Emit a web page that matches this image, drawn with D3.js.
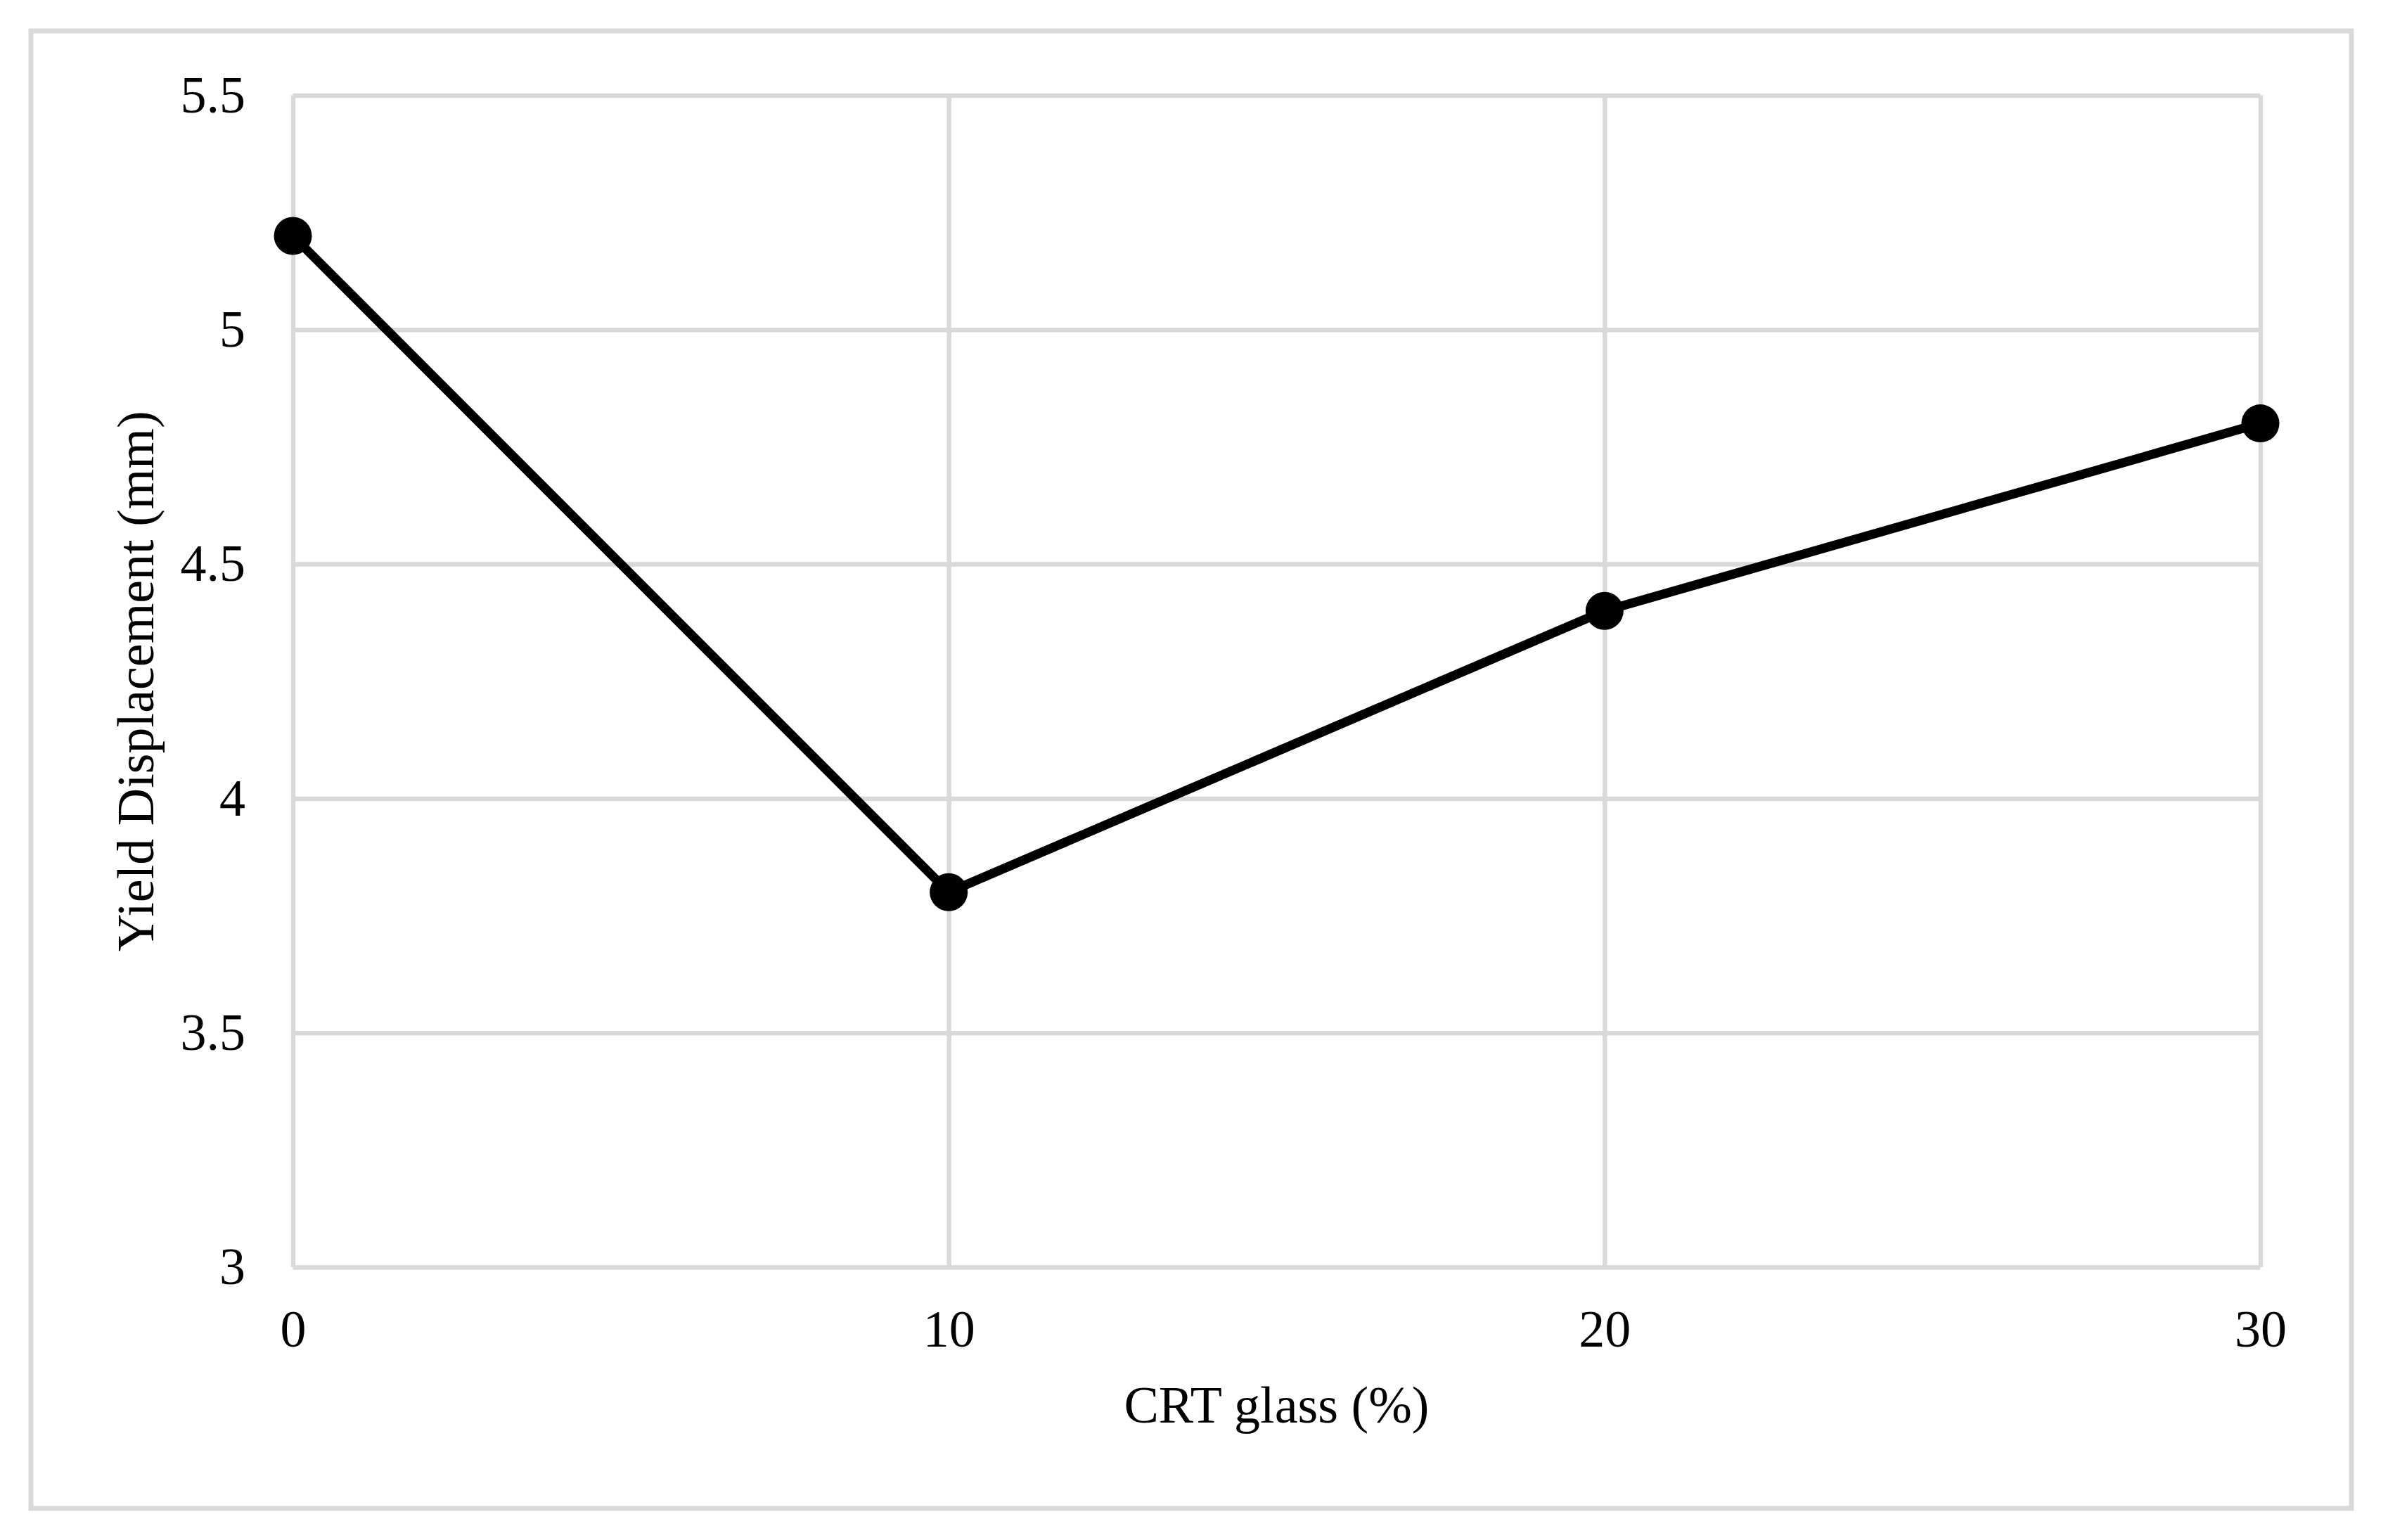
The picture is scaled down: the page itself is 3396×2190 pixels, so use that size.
<!DOCTYPE html>
<html>
<head>
<meta charset="utf-8">
<script src="https://cdn.jsdelivr.net/npm/d3@7"></script>
<style>
  html, body { margin: 0; padding: 0; background: #fff; }
  svg { display: block; }
</style>
</head>
<body>
<div id="chart"></div>
<script>
// ---- data ----
const crtGlass = [0, 10, 20, 30];
const yieldDisplacement = [5.2, 3.8, 4.4, 4.8];
const xTicks = [0, 10, 20, 30];
const yTicks = [3, 3.5, 4, 4.5, 5, 5.5];
const xTitle = "CRT glass (%)";
const yTitle = "Yield Displacement (mm)";

(function () {
  // ---- layout ----
  const W = 3396, H = 2190;
  const pLeft = 416.5, pRight = 3214.5, pTop = 135.5, pBottom = 1802;
  const font = "'Liberation Serif', 'Times New Roman', serif";
  const fs = 74;
  const gridColor = "#d9d9d9";

  const svg = d3.select("#chart").append("svg")
    .attr("width", W).attr("height", H);

  svg.append("rect").attr("width", W).attr("height", H).attr("fill", "#fff");
  svg.append("rect")
    .attr("x", 44).attr("y", 44).attr("width", 3300).attr("height", 2101)
    .attr("fill", "#fff").attr("stroke", gridColor).attr("stroke-width", 7);

  const x = d3.scaleLinear().domain([0, 30]).range([pLeft, pRight]);
  const y = d3.scaleLinear().domain([3, 5.5]).range([pBottom, pTop]);

  // x axis with vertical gridlines
  const xAxis = svg.append("g")
    .attr("transform", `translate(0,${pBottom})`)
    .call(d3.axisBottom(x).tickValues(xTicks).tickFormat(d3.format("d"))
      .tickSizeInner(-(pBottom - pTop)).tickSizeOuter(0).tickPadding(60.5));
  xAxis.select(".domain").remove();
  xAxis.selectAll(".tick line").attr("stroke", gridColor).attr("stroke-width", 6.5);
  xAxis.selectAll(".tick text").attr("font-family", font).attr("font-size", fs).attr("fill", "#000");

  // y axis with horizontal gridlines
  const yAxis = svg.append("g")
    .attr("transform", `translate(${pLeft},0)`)
    .call(d3.axisLeft(y).tickValues(yTicks).tickFormat(d => String(d))
      .tickSizeInner(-(pRight - pLeft)).tickSizeOuter(0).tickPadding(67.5));
  yAxis.select(".domain").remove();
  yAxis.selectAll(".tick line").attr("stroke", gridColor).attr("stroke-width", 6.5);
  yAxis.selectAll(".tick text").attr("font-family", font).attr("font-size", fs).attr("fill", "#000");

  // series
  const pts = crtGlass.map((c, i) => ({ c, v: yieldDisplacement[i] }));
  const line = d3.line().x(d => x(d.c)).y(d => y(d.v));
  svg.append("path").datum(pts)
    .attr("d", line).attr("fill", "none")
    .attr("stroke", "#000").attr("stroke-width", 13)
    .attr("stroke-linejoin", "round");
  svg.selectAll("circle.pt").data(pts).enter().append("circle")
    .attr("class", "pt")
    .attr("cx", d => x(d.c)).attr("cy", d => y(d.v)).attr("r", 27)
    .attr("fill", "#000");

  // titles
  svg.append("text")
    .attr("x", (pLeft + pRight) / 2).attr("y", 2023)
    .attr("text-anchor", "middle")
    .attr("font-family", font).attr("font-size", fs).attr("fill", "#000")
    .text(xTitle);
  svg.append("text")
    .attr("transform", `translate(218,${(pTop + pBottom) / 2}) rotate(-90)`)
    .attr("text-anchor", "middle")
    .attr("font-family", font).attr("font-size", fs).attr("fill", "#000")
    .text(yTitle);
})();
</script>
</body>
</html>
